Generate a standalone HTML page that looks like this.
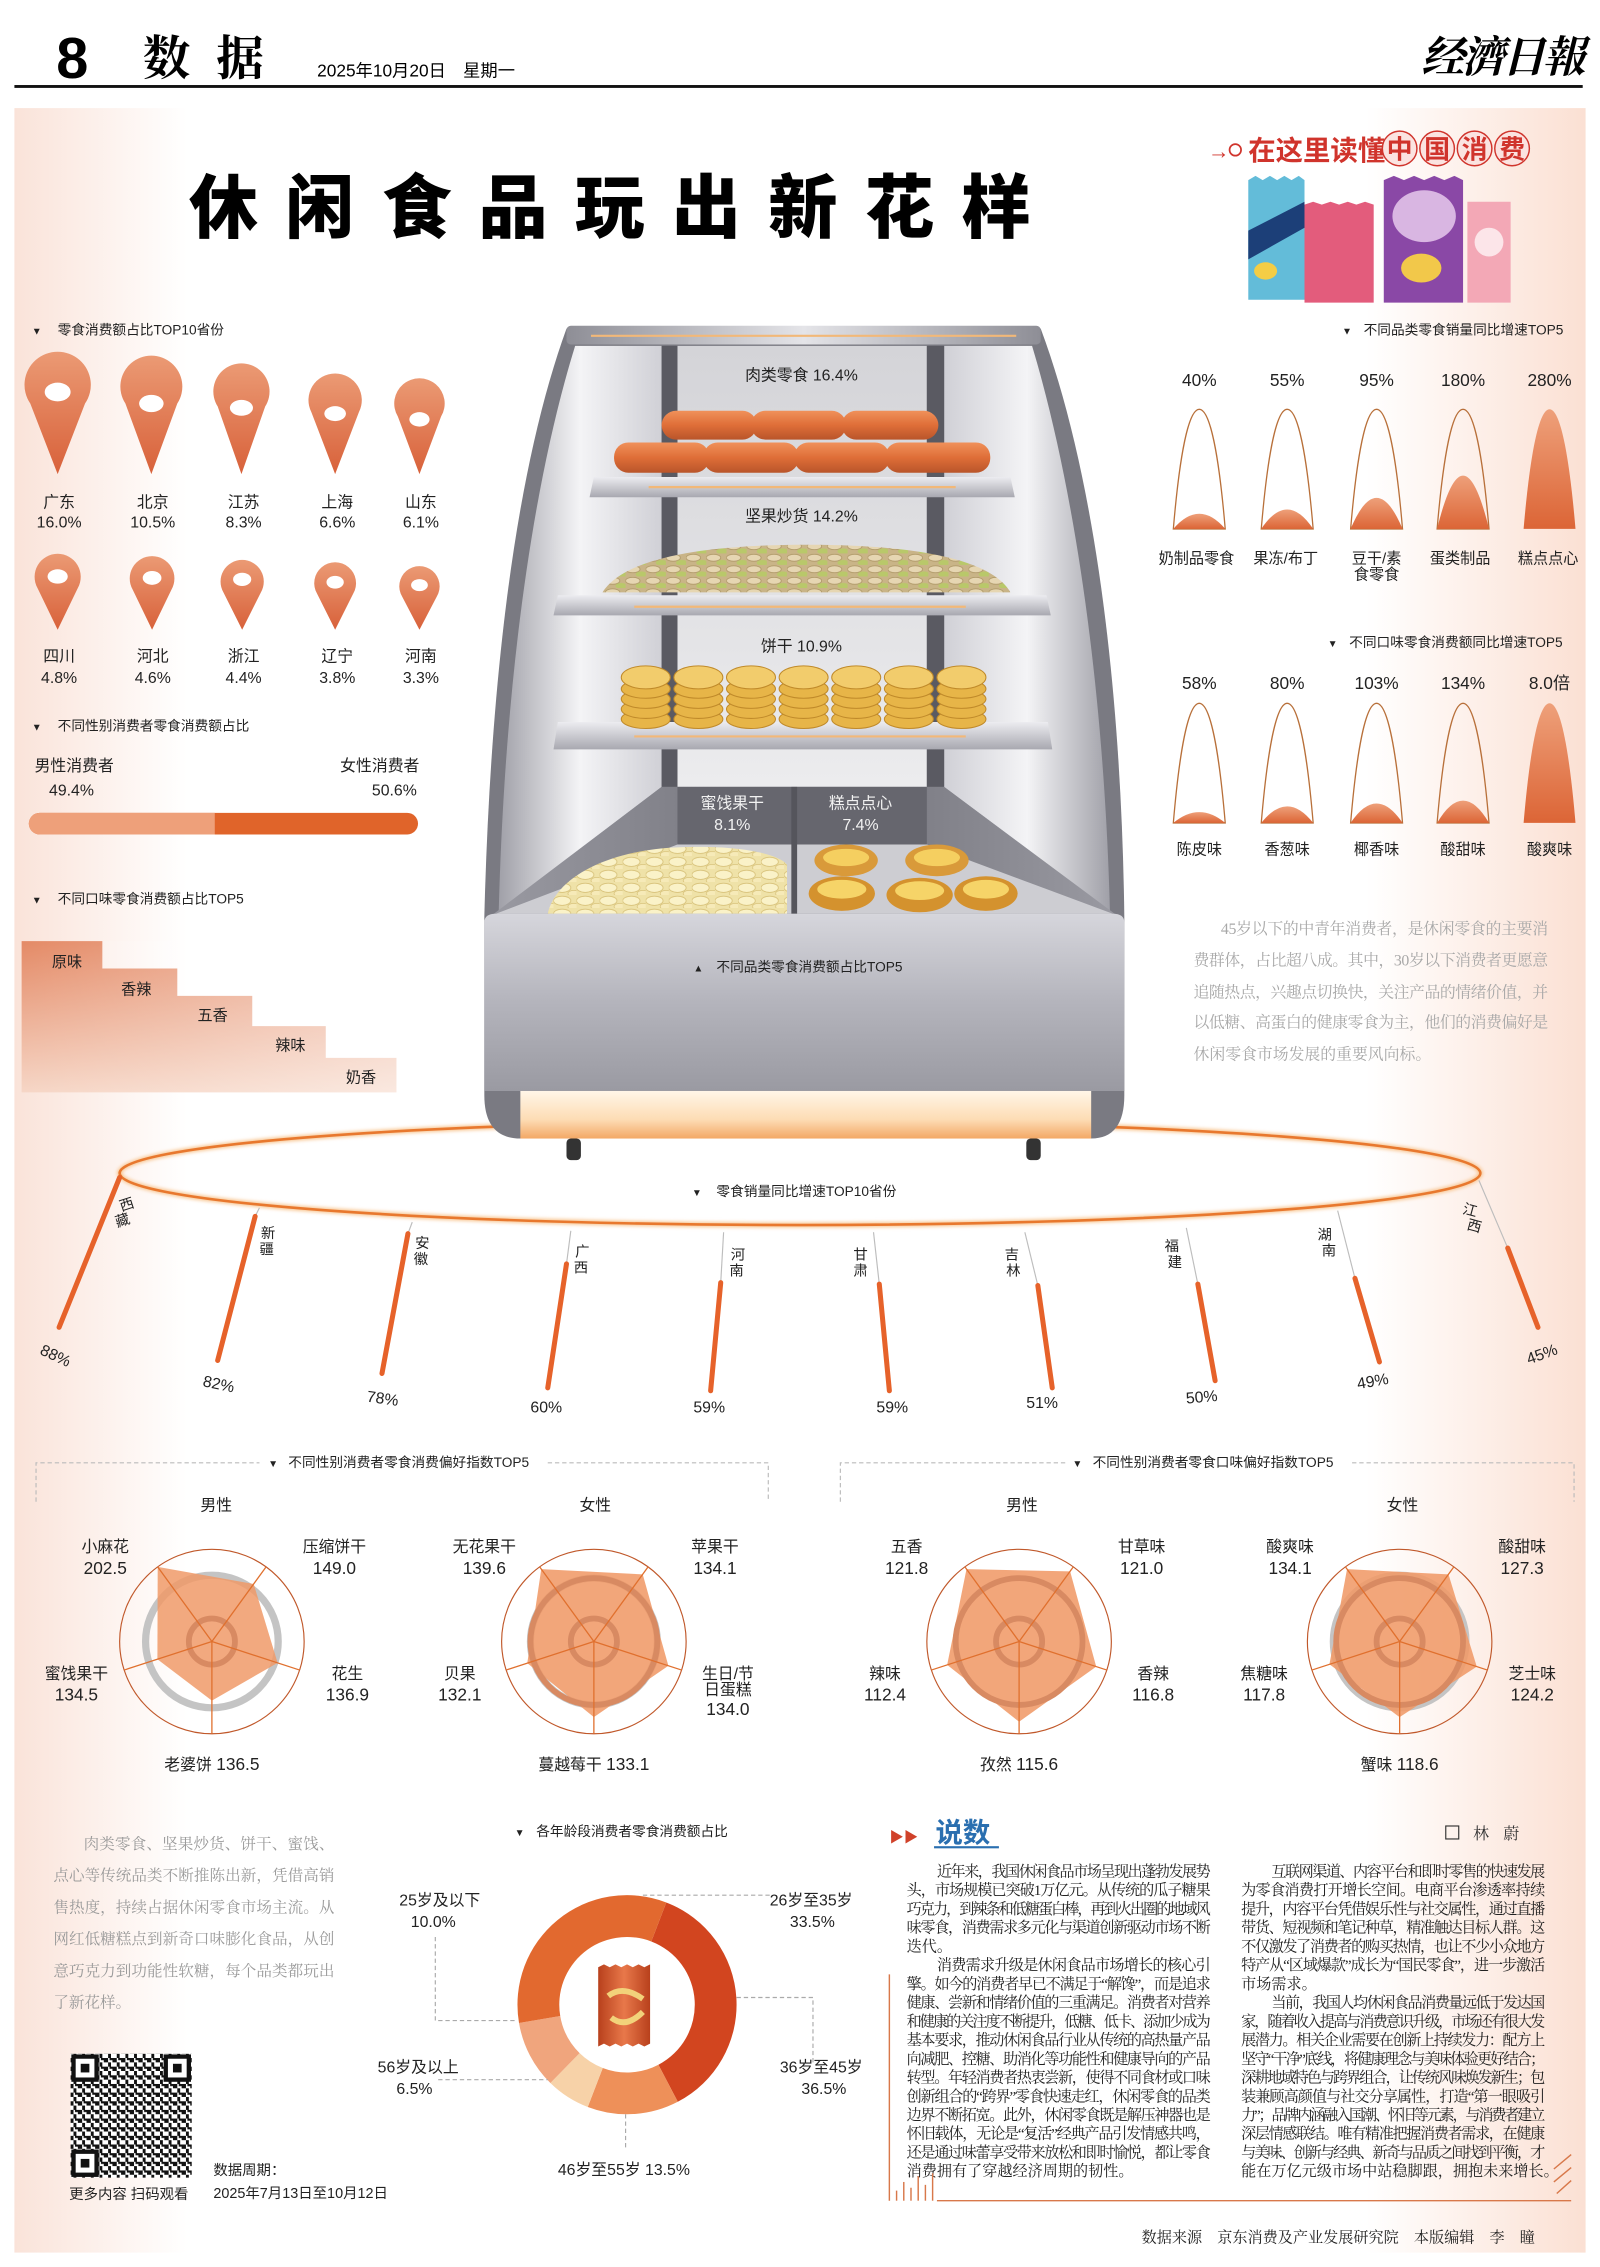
<!DOCTYPE html>
<html><head><meta charset="utf-8">
<style>
html,body{margin:0;padding:0;background:#fff;}
svg{display:block;}
.s{font-family:"Liberation Sans","Noto Sans CJK SC",sans-serif;}
.r{font-family:"Liberation Serif","Noto Serif CJK SC",serif;}
</style></head>
<body>
<svg width="1600" height="2267" viewBox="0 0 1110 1573" preserveAspectRatio="none" xmlns="http://www.w3.org/2000/svg" class="s">
<defs>
<linearGradient id="bg" x1="0" x2="1" y1="0" y2="0">
<stop offset="0" stop-color="#fae3d9"/><stop offset="0.11" stop-color="#fff"/><stop offset="0.86" stop-color="#fff"/><stop offset="1" stop-color="#fbe0d3"/></linearGradient>
<linearGradient id="pin" x1="0" x2="0" y1="0" y2="1"><stop offset="0" stop-color="#eb9a74"/><stop offset="1" stop-color="#d8613a"/></linearGradient>
<linearGradient id="bell" x1="0" x2="0" y1="0" y2="1"><stop offset="0" stop-color="#eea07a"/><stop offset="1" stop-color="#dc6536"/></linearGradient>
<linearGradient id="stair" x1="0" x2="0" y1="0" y2="1"><stop offset="0" stop-color="#e48a66"/><stop offset="1" stop-color="#f6d6c6"/></linearGradient>
<linearGradient id="stairH" x1="0" x2="1" y1="0" y2="0"><stop offset="0" stop-color="#fff" stop-opacity="0"/><stop offset="1" stop-color="#fff" stop-opacity="0.45"/></linearGradient>
<linearGradient id="metal" x1="0" x2="1"><stop offset="0" stop-color="#8e8e96"/><stop offset="0.5" stop-color="#e4e4e8"/><stop offset="1" stop-color="#8e8e96"/></linearGradient>
<linearGradient id="sideL" x1="0" x2="1"><stop offset="0" stop-color="#a0a0a8"/><stop offset="0.5" stop-color="#f4f4f6"/><stop offset="1" stop-color="#d0d0d6"/></linearGradient>
<linearGradient id="sideR" x1="1" x2="0"><stop offset="0" stop-color="#a0a0a8"/><stop offset="0.5" stop-color="#f4f4f6"/><stop offset="1" stop-color="#d0d0d6"/></linearGradient>
<linearGradient id="back" x1="0" x2="0" y1="0" y2="1"><stop offset="0" stop-color="#d4d4d8"/><stop offset="1" stop-color="#ececee"/></linearGradient>
<linearGradient id="base" x1="0" x2="0" y1="0" y2="1"><stop offset="0" stop-color="#d6d6dc"/><stop offset="0.5" stop-color="#b4b4bc"/><stop offset="1" stop-color="#9a9aa2"/></linearGradient>
<linearGradient id="glow" x1="0" x2="0" y1="0" y2="1"><stop offset="0" stop-color="#fff6e8"/><stop offset="0.6" stop-color="#fddcb4"/><stop offset="1" stop-color="#f3a866"/></linearGradient>
<linearGradient id="saus" x1="0" x2="0" y1="0" y2="1"><stop offset="0" stop-color="#f0915a"/><stop offset="0.5" stop-color="#df6e38"/><stop offset="1" stop-color="#b9552a"/></linearGradient>
<linearGradient id="shelf" x1="0" x2="0" y1="0" y2="1"><stop offset="0" stop-color="#ececf0"/><stop offset="1" stop-color="#a8a8b0"/></linearGradient>
<linearGradient id="binw" x1="0" x2="1"><stop offset="0" stop-color="#9a9aa2"/><stop offset="0.5" stop-color="#707078"/><stop offset="1" stop-color="#9a9aa2"/></linearGradient>
<linearGradient id="bag" x1="0" x2="1"><stop offset="0" stop-color="#b8401c"/><stop offset="0.5" stop-color="#e8784a"/><stop offset="1" stop-color="#b8401c"/></linearGradient>
<pattern id="nuts" width="14" height="8" patternUnits="userSpaceOnUse">
<rect width="14" height="8" fill="#c9b487"/>
<ellipse cx="5" cy="3" rx="5" ry="2.4" fill="#e6d6b2" stroke="#a8915e" stroke-width="0.5"/>
<ellipse cx="11" cy="6.5" rx="4" ry="2" fill="#b9c86a"/>
</pattern>
<pattern id="fruit" width="16" height="9" patternUnits="userSpaceOnUse">
<rect width="16" height="9" fill="#efe2a8"/>
<ellipse cx="6" cy="4" rx="6" ry="3.2" fill="#faf2c8" stroke="#d8c27a" stroke-width="0.6"/>
<ellipse cx="14" cy="8" rx="4" ry="2.2" fill="#f6eab8" stroke="#d8c27a" stroke-width="0.5"/>
</pattern>
<pattern id="qr" width="6" height="6" patternUnits="userSpaceOnUse">
<rect width="6" height="6" fill="#fff"/>
<rect x="0" y="0" width="3" height="3" fill="#111"/><rect x="3" y="3" width="2" height="3" fill="#111"/><rect x="4" y="0" width="2" height="1.5" fill="#111"/>
</pattern>
<filter id="blur"><feGaussianBlur stdDeviation="1.2"/></filter>
</defs>

<!-- Header -->
<text x="39" y="54" font-size="40" font-weight="bold">8</text>
<text x="99" y="52" font-size="33" font-weight="bold" class="r" letter-spacing="18">数据</text>
<text x="220" y="53" font-size="12">2025年10月20日　星期一</text>
<text x="986" y="50" font-size="30" font-weight="bold" class="r" font-style="italic" letter-spacing="-2">经濟日報</text>
<rect x="10" y="59" width="1088" height="2" fill="#111"/>

<!-- Panel -->
<rect x="10" y="75" width="1090" height="1488" fill="url(#bg)"/>

<!-- Title -->
<text x="131" y="161" font-size="48" font-weight="900" textLength="584" lengthAdjust="spacing" font-family="'Noto Sans CJK SC',sans-serif">休闲食品玩出新花样</text>

<!-- Top right slogan -->
<text x="838" y="110" font-size="15" fill="#d0342c" font-weight="bold">→</text>
<circle cx="857" cy="104" r="4" fill="none" stroke="#d0342c" stroke-width="1.2"/>
<text x="866" y="111" font-size="19" fill="#d0342c" font-weight="bold">在这里读懂</text>
<g fill="#fbe3e0" stroke="#d0342c" stroke-width="1"><circle cx="971" cy="103" r="12"/><circle cx="997" cy="103" r="12"/><circle cx="1023" cy="103" r="12"/><circle cx="1049" cy="103" r="12"/></g>
<g font-size="18" fill="#d0342c" font-weight="bold" text-anchor="middle"><text x="971" y="110">中</text><text x="997" y="110">国</text><text x="1023" y="110">消</text><text x="1049" y="110">费</text></g>
<path d="M866,125 l5,-3 5,3 5,-3 5,3 5,-3 5,3 5,-3 4,3 V208 H866 Z" fill="#63bcd9"/>
<path d="M866,160 L905,140 L905,158 L866,180 Z" fill="#1c3f78"/>
<ellipse cx="878" cy="188" rx="8" ry="6" fill="#f4cd45"/>
<path d="M905,142 l6,-2 6,2 6,-2 6,2 6,-2 6,2 6,-2 6,2 V210 H905 Z" fill="#e35c7c"/>
<path d="M960,125 l7,-3 7,3 7,-3 7,3 7,-3 7,3 7,-3 6,3 V210 H960 Z" fill="#8a48a6"/>
<ellipse cx="988" cy="150" rx="22" ry="18" fill="#d9b6e2"/>
<ellipse cx="986" cy="186" rx="14" ry="10" fill="#f2c84a"/>
<path d="M1018,140 h30 V210 h-30 Z" fill="#f3a8b6"/>
<circle cx="1033" cy="168" r="10" fill="#fff" opacity="0.7"/>

<!-- Section: top10 provinces -->
<g font-size="9.5" fill="#222"><text x="22" y="232" font-size="7">▼</text><text x="40" y="232">零食消费额占比TOP10省份</text></g>
<g fill="url(#pin)">
<path d="M21,280 A23,23 0 1 1 59,280 L40,329 Z"/><path d="M87,280 A21.5,21.5 0 1 1 123,280 L105,329 Z"/>
<path d="M151,282 A19.5,19.5 0 1 1 184,282 L167.5,329 Z"/><path d="M216,286 A18.5,18.5 0 1 1 249,286 L232.5,329 Z"/>
<path d="M276,289 A17.5,17.5 0 1 1 306,289 L291,329 Z"/>
<path d="M26,408 A16,16 0 1 1 54,408 L40,437 Z"/><path d="M92,409 A15.5,15.5 0 1 1 119,409 L105.5,437 Z"/>
<path d="M155,411 A15,15 0 1 1 181,411 L168,437 Z"/><path d="M220,412 A14.5,14.5 0 1 1 245,412 L232.5,437 Z"/>
<path d="M279,414 A14,14 0 1 1 303,414 L291,437 Z"/>
</g>
<g fill="#fff"><ellipse cx="40" cy="272" rx="9" ry="6.5"/><ellipse cx="105" cy="280" rx="8.5" ry="6"/><ellipse cx="167.5" cy="283" rx="8" ry="5.5"/><ellipse cx="232.5" cy="287" rx="7.5" ry="5.2"/><ellipse cx="291" cy="291" rx="7" ry="5"/>
<ellipse cx="40" cy="400" rx="7" ry="5"/><ellipse cx="105.5" cy="401" rx="6.5" ry="4.8"/><ellipse cx="168" cy="402" rx="6.3" ry="4.6"/><ellipse cx="232.5" cy="404" rx="6" ry="4.4"/><ellipse cx="291" cy="406" rx="5.8" ry="4.2"/></g>
<g font-size="11" fill="#222" text-anchor="middle">
<text x="41" y="352">广东</text><text x="41" y="366">16.0%</text>
<text x="106" y="352">北京</text><text x="106" y="366">10.5%</text>
<text x="169" y="352">江苏</text><text x="169" y="366">8.3%</text>
<text x="234" y="352">上海</text><text x="234" y="366">6.6%</text>
<text x="292" y="352">山东</text><text x="292" y="366">6.1%</text>
<text x="41" y="459">四川</text><text x="41" y="474">4.8%</text>
<text x="106" y="459">河北</text><text x="106" y="474">4.6%</text>
<text x="169" y="459">浙江</text><text x="169" y="474">4.4%</text>
<text x="234" y="459">辽宁</text><text x="234" y="474">3.8%</text>
<text x="292" y="459">河南</text><text x="292" y="474">3.3%</text>
</g>

<!-- Gender share -->
<g font-size="9.5" fill="#222"><text x="22" y="507" font-size="7">▼</text><text x="40" y="507">不同性别消费者零食消费额占比</text></g>
<g font-size="11" fill="#222"><text x="24" y="535">男性消费者</text><text x="34" y="552">49.4%</text><text x="236" y="535">女性消费者</text><text x="258" y="552">50.6%</text></g>
<rect x="20" y="564" width="270" height="15" rx="7.5" fill="#e0642a"/>
<path d="M27.5,564 H149 V579 H27.5 A7.5,7.5 0 0 1 27.5,564 Z" fill="#eea07a"/>

<!-- Taste stairs -->
<g font-size="9.5" fill="#222"><text x="22" y="627" font-size="7">▼</text><text x="40" y="627">不同口味零食消费额占比TOP5</text></g>
<path d="M15,653 H71 V672 H123 V691 H175 V712 H226 V734 H275 V758 H15 Z" fill="url(#stair)"/>
<rect x="15" y="653" width="260" height="105" fill="url(#stairH)"/>
<g font-size="10.5" fill="#222"><text x="36" y="671">原味</text><text x="84" y="690">香辣</text><text x="137" y="708">五香</text><text x="191" y="729">辣味</text><text x="240" y="751">奶香</text></g>

<!-- Bells top right -->
<g font-size="9.5" fill="#222"><text x="931" y="232" font-size="7">▼</text><text x="946" y="232">不同品类零食销量同比增速TOP5</text></g>
<g font-size="12" fill="#222" text-anchor="middle"><text x="832" y="268">40%</text><text x="893" y="268">55%</text><text x="955" y="268">95%</text><text x="1015" y="268">180%</text><text x="1075" y="268">280%</text></g>
<g fill="none" stroke="#b8703a" stroke-width="0.9">
<path d="M814,367 C818,320 824,284 832,284 C840,284 846,320 850,367 Z"/>
<path d="M875,367 C879,320 885,284 893,284 C901,284 907,320 911,367 Z"/>
<path d="M937,367 C941,320 947,284 955,284 C963,284 969,320 973,367 Z"/>
<path d="M997,367 C1001,320 1007,284 1015,284 C1023,284 1029,320 1033,367 Z"/>
</g>
<g fill="url(#bell)">
<path d="M814,367 Q832,346 850,367 Z"/><path d="M875,367 Q893,340 911,367 Z"/><path d="M937,367 Q955,324 973,367 Z"/><path d="M997,367 Q1015,293 1033,367 Z"/>
<path d="M1057,367 C1061,320 1067,284 1075,284 C1083,284 1089,320 1093,367 Z"/>
</g>
<g font-size="10.5" fill="#222" text-anchor="middle"><text x="830" y="391">奶制品零食</text><text x="892" y="391">果冻/布丁</text><text x="955" y="391">豆干/素</text><text x="955" y="402">食零食</text><text x="1013" y="391">蛋类制品</text><text x="1074" y="391">糕点点心</text></g>

<g font-size="9.5" fill="#222"><text x="921" y="449" font-size="7">▼</text><text x="936" y="449">不同口味零食消费额同比增速TOP5</text></g>
<g font-size="12" fill="#222" text-anchor="middle"><text x="832" y="478">58%</text><text x="893" y="478">80%</text><text x="955" y="478">103%</text><text x="1015" y="478">134%</text><text x="1075" y="478">8.0倍</text></g>
<g fill="none" stroke="#b8703a" stroke-width="0.9">
<path d="M814,571 C818,524 824,488 832,488 C840,488 846,524 850,571 Z"/>
<path d="M875,571 C879,524 885,488 893,488 C901,488 907,524 911,571 Z"/>
<path d="M937,571 C941,524 947,488 955,488 C963,488 969,524 973,571 Z"/>
<path d="M997,571 C1001,524 1007,488 1015,488 C1023,488 1029,524 1033,571 Z"/>
</g>
<g fill="url(#bell)">
<path d="M814,571 Q832,556 850,571 Z"/><path d="M875,571 Q893,548 911,571 Z"/><path d="M937,571 Q955,544 973,571 Z"/><path d="M997,571 Q1015,540 1033,571 Z"/>
<path d="M1057,571 C1061,524 1067,488 1075,488 C1083,488 1089,524 1093,571 Z"/>
</g>
<g font-size="10.5" fill="#222" text-anchor="middle"><text x="832" y="593">陈皮味</text><text x="893" y="593">香葱味</text><text x="955" y="593">椰香味</text><text x="1015" y="593">酸甜味</text><text x="1075" y="593">酸爽味</text></g>

<g font-size="11" fill="#a8a8a8" class="r">
<text x="847" y="648" textLength="227" lengthAdjust="spacing">45岁以下的中青年消费者，是休闲零食的主要消</text>
<text x="828" y="670" textLength="246" lengthAdjust="spacing">费群体，占比超八成。其中，30岁以下消费者更愿意</text>
<text x="828" y="692" textLength="246" lengthAdjust="spacing">追随热点，兴趣点切换快，关注产品的情绪价值，并</text>
<text x="828" y="713" textLength="246" lengthAdjust="spacing">以低糖、高蛋白的健康零食为主，他们的消费偏好是</text>
<text x="828" y="735">休闲零食市场发展的重要风向标。</text>
</g>

<!-- Ellipse -->
<ellipse cx="555" cy="814" rx="472" ry="36" fill="none" stroke="#f8c48e" stroke-width="3.5" filter="url(#blur)"/>
<ellipse cx="555" cy="814" rx="472" ry="36" fill="none" stroke="#e8782e" stroke-width="1.8"/>

<!-- Cabinet -->
<path d="M393,228 L722,228 C760,330 778,480 780,636 L780,760 Q780,790 757,790 L361,790 Q336,790 336,760 L336,636 C340,480 356,330 393,228 Z" fill="#7a7a82"/>
<path d="M399,240 L459,240 L459,546 L346,632 C350,480 368,340 399,240 Z" fill="url(#sideL)"/>
<path d="M655,240 L716,240 C746,340 766,480 770,632 L655,546 Z" fill="url(#sideR)"/>
<rect x="470" y="240" width="173" height="306" fill="url(#back)"/>
<rect x="459" y="240" width="11" height="306" fill="#5a5a62"/>
<rect x="643" y="240" width="12" height="306" fill="#5a5a62"/>
<rect x="393" y="226" width="329" height="13" rx="3" fill="url(#metal)"/>
<line x1="410" y1="233" x2="705" y2="233" stroke="#f2b878" stroke-width="1.5"/>
<g fill="url(#saus)">
<rect x="459" y="285" width="66" height="20" rx="10"/><rect x="521" y="285" width="66" height="20" rx="10"/><rect x="584" y="285" width="67" height="20" rx="10"/>
<rect x="426" y="307" width="66" height="21" rx="10"/><rect x="488" y="307" width="66" height="21" rx="10"/><rect x="551" y="307" width="66" height="21" rx="10"/><rect x="614" y="307" width="73" height="21" rx="10"/>
</g>
<path d="M412,331 H701 L704,345 H409 Z" fill="url(#shelf)"/>
<line x1="450" y1="338" x2="663" y2="338" stroke="#f2b878" stroke-width="1.5"/>
<path d="M387,413 H726 L729,427 H384 Z" fill="url(#shelf)"/>
<line x1="440" y1="421" x2="670" y2="421" stroke="#f2b878" stroke-width="1.5"/>
<path d="M387,501 H727 L730,520 H384 Z" fill="url(#shelf)"/>
<line x1="440" y1="511" x2="670" y2="511" stroke="#f2b878" stroke-width="1.5"/>
<path d="M418,411 C430,392 470,378 560,378 C650,378 690,392 701,411 Z" fill="url(#nuts)"/>
<g stroke="#c08a2a" stroke-width="0.7" fill="#e7b548">
<g id="stk"><ellipse cx="448" cy="499" rx="17" ry="6.5"/><ellipse cx="448" cy="492" rx="17" ry="6.5"/><ellipse cx="448" cy="485" rx="17" ry="6.5"/><ellipse cx="448" cy="478" rx="17" ry="6.5"/><ellipse cx="448" cy="470" rx="17" ry="8" fill="#f2cc6c"/></g>
<use href="#stk" x="36.5"/><use href="#stk" x="73"/><use href="#stk" x="109.5"/><use href="#stk" x="146"/><use href="#stk" x="182.5"/><use href="#stk" x="219"/>
</g>
<!-- bins -->
<path d="M459,546 L655,546 L776,636 L340,636 Z" fill="url(#binw)"/>
<rect x="470" y="546" width="173" height="41" fill="#66666e"/>
<path d="M470,586 L643,586 L772,634 L344,634 Z" fill="#cdcdd2"/>
<rect x="549" y="546" width="4" height="88" fill="#55555c"/>
<path d="M380,634 C385,610 420,590 470,588 C510,586 540,592 546,600 L546,634 Z" fill="url(#fruit)"/>
<g>
<ellipse cx="587" cy="597" rx="22" ry="11" fill="#d99a3a"/><ellipse cx="587" cy="595" rx="16" ry="6" fill="#f5cf60"/>
<ellipse cx="650" cy="597" rx="22" ry="11" fill="#d99a3a"/><ellipse cx="650" cy="595" rx="16" ry="6" fill="#f5cf60"/>
<ellipse cx="584" cy="620" rx="23" ry="12" fill="#d4922e"/><ellipse cx="584" cy="617" rx="17" ry="6.5" fill="#f6d468"/>
<ellipse cx="638" cy="621" rx="23" ry="12" fill="#d4922e"/><ellipse cx="638" cy="618" rx="17" ry="6.5" fill="#f6d468"/>
<ellipse cx="684" cy="620" rx="22" ry="12" fill="#d4922e"/><ellipse cx="684" cy="617" rx="16" ry="6.5" fill="#f6d468"/>
</g>
<path d="M336,640 Q336,634 344,634 L772,634 Q780,634 780,640 L780,757 L336,757 Z" fill="url(#base)"/>
<rect x="361" y="757" width="396" height="33" fill="url(#glow)"/>
<rect x="393" y="790" width="10" height="15" rx="3" fill="#333"/>
<rect x="712" y="790" width="10" height="15" rx="3" fill="#333"/>
<g font-size="11" fill="#222" text-anchor="middle"><text x="556" y="264">肉类零食  16.4%</text><text x="556" y="362">坚果炒货  14.2%</text><text x="556" y="452">饼干  10.9%</text></g>
<g font-size="11" fill="#f2f2f2" text-anchor="middle"><text x="508" y="561">蜜饯果干</text><text x="508" y="576">8.1%</text><text x="597" y="561">糕点点心</text><text x="597" y="576">7.4%</text></g>
<g font-size="9.5" fill="#222"><text x="481" y="674" font-size="7">▲</text><text x="497" y="674">不同品类零食消费额占比TOP5</text></g>

<!-- sticks -->
<g stroke="#bdbdbd" stroke-width="0.8">
<line x1="180" y1="838" x2="177" y2="844"/><line x1="286" y1="848" x2="283" y2="856"/><line x1="396" y1="854" x2="393" y2="877"/>
<line x1="502" y1="855" x2="500" y2="890"/><line x1="606" y1="855" x2="610" y2="891"/><line x1="711" y1="855" x2="720" y2="892"/>
<line x1="823" y1="852" x2="831" y2="891"/><line x1="928" y1="840" x2="940" y2="887"/><line x1="1026" y1="819" x2="1046" y2="866"/>
</g>
<g stroke="#e6622a" stroke-width="3.5" stroke-linecap="round">
<line x1="83" y1="817" x2="41" y2="921"/><line x1="177" y1="844" x2="151" y2="944"/><line x1="283" y1="856" x2="265" y2="953"/>
<line x1="393" y1="877" x2="380" y2="963"/><line x1="500" y1="890" x2="493" y2="965"/><line x1="610" y1="891" x2="617" y2="965"/>
<line x1="720" y1="892" x2="730" y2="963"/><line x1="831" y1="891" x2="843" y2="958"/><line x1="940" y1="887" x2="957" y2="945"/>
<line x1="1046" y1="866" x2="1067" y2="921"/>
</g>
<g font-size="10" fill="#222" text-anchor="middle">
<text x="89" y="839" transform="rotate(-18 89 839)">西</text><text x="86" y="850" transform="rotate(-18 86 850)">藏</text>
<text x="186" y="859">新</text><text x="185" y="870">疆</text>
<text x="293" y="866">安</text><text x="292" y="877">徽</text>
<text x="404" y="872">广</text><text x="403" y="883">西</text>
<text x="512" y="874">河</text><text x="511" y="885">南</text>
<text x="597" y="874">甘</text><text x="597" y="885">肃</text>
<text x="702" y="874">吉</text><text x="703" y="885">林</text>
<text x="813" y="868">福</text><text x="815" y="879">建</text>
<text x="919" y="860">湖</text><text x="922" y="871">南</text>
<text x="1019" y="843" transform="rotate(15 1019 843)">江</text><text x="1022" y="854" transform="rotate(15 1022 854)">西</text>
</g>
<g font-size="11" fill="#222" text-anchor="middle">
<text x="37" y="944" transform="rotate(25 37 944)">88%</text><text x="151" y="964" transform="rotate(12 151 964)">82%</text>
<text x="265" y="974" transform="rotate(8 265 974)">78%</text><text x="379" y="980">60%</text><text x="492" y="980">59%</text>
<text x="619" y="980">59%</text><text x="723" y="977">51%</text><text x="834" y="973" transform="rotate(-5 834 973)">50%</text>
<text x="953" y="962" transform="rotate(-10 953 962)">49%</text><text x="1071" y="943" transform="rotate(-20 1071 943)">45%</text>
</g>
<g font-size="9.5" fill="#222"><text x="480" y="830" font-size="7">▼</text><text x="497" y="830">零食销量同比增速TOP10省份</text></g>

<!-- Radar boxes -->
<g fill="none" stroke="#bbb" stroke-width="0.8" stroke-dasharray="3,2">
<path d="M25,1042 V1015 H180 M380,1015 H533 V1042"/>
<path d="M583,1042 V1015 H740 M938,1015 H1092 V1042"/>
</g>
<g font-size="9.5" fill="#222"><text x="186" y="1018" font-size="7">▼</text><text x="200" y="1018">不同性别消费者零食消费偏好指数TOP5</text>
<text x="744" y="1018" font-size="7">▼</text><text x="758" y="1018">不同性别消费者零食口味偏好指数TOP5</text></g>
<g font-size="11" fill="#222" text-anchor="middle"><text x="150" y="1048">男性</text><text x="413" y="1048">女性</text><text x="709" y="1048">男性</text><text x="973" y="1048">女性</text></g>

<g>
<circle cx="147" cy="1139" r="64" fill="none" stroke="#c0582a" stroke-width="0.8"/>
<circle cx="147" cy="1139" r="46" fill="none" stroke="#c4c4c4" stroke-width="5"/>
<polygon points="109.4,1087.2 176,1099.1 192.6,1153.8 147,1180 109.2,1151.3" fill="#f09a68" opacity="0.85"/>
<circle cx="147" cy="1139" r="16" fill="none" stroke="#d88a62" stroke-width="4"/>
<g stroke="#e0702e" stroke-width="0.9"><line x1="147" y1="1139" x2="109.4" y2="1087.2"/><line x1="147" y1="1139" x2="184.6" y2="1087.2"/><line x1="147" y1="1139" x2="207.9" y2="1158.8"/><line x1="147" y1="1139" x2="147" y2="1203"/><line x1="147" y1="1139" x2="86.1" y2="1158.8"/></g>
</g>
<g>
<circle cx="412" cy="1139" r="64" fill="none" stroke="#c0582a" stroke-width="0.8"/>
<circle cx="412" cy="1139" r="44" fill="none" stroke="#c4c4c4" stroke-width="5"/>
<polygon points="375.5,1088.8 445.9,1092.4 463.7,1155.8 412,1191.5 365.8,1154" fill="#f09a68" opacity="0.88"/>
<circle cx="412" cy="1139" r="44" fill="none" stroke="#d88a62" stroke-width="4"/>
<circle cx="412" cy="1139" r="16" fill="none" stroke="#d88a62" stroke-width="4"/>
<g stroke="#e0702e" stroke-width="0.9"><line x1="412" y1="1139" x2="374.4" y2="1087.2"/><line x1="412" y1="1139" x2="449.6" y2="1087.2"/><line x1="412" y1="1139" x2="472.9" y2="1158.8"/><line x1="412" y1="1139" x2="412" y2="1203"/><line x1="412" y1="1139" x2="351.1" y2="1158.8"/></g>
</g>
<g>
<circle cx="707" cy="1139" r="64" fill="none" stroke="#c0582a" stroke-width="0.8"/>
<polygon points="670.5,1088.8 742.4,1090.3 760.5,1156.4 707,1194.7 657.1,1155.2" fill="#f09a68" opacity="0.88"/>
<circle cx="707" cy="1139" r="44" fill="none" stroke="#d88a62" stroke-width="4"/>
<circle cx="707" cy="1139" r="16" fill="none" stroke="#d88a62" stroke-width="4"/>
<g stroke="#e0702e" stroke-width="0.9"><line x1="707" y1="1139" x2="669.4" y2="1087.2"/><line x1="707" y1="1139" x2="744.6" y2="1087.2"/><line x1="707" y1="1139" x2="767.9" y2="1158.8"/><line x1="707" y1="1139" x2="707" y2="1203"/><line x1="707" y1="1139" x2="646.1" y2="1158.8"/></g>
</g>
<g>
<circle cx="971" cy="1139" r="64" fill="none" stroke="#c0582a" stroke-width="0.8"/>
<circle cx="971" cy="1139" r="46" fill="none" stroke="#c4c4c4" stroke-width="5"/>
<polygon points="934.5,1088.8 1004.9,1092.4 1024.5,1156.4 971,1191.5 922.3,1154.8" fill="#f09a68" opacity="0.88"/>
<circle cx="971" cy="1139" r="44" fill="none" stroke="#d88a62" stroke-width="4"/>
<circle cx="971" cy="1139" r="16" fill="none" stroke="#d88a62" stroke-width="4"/>
<g stroke="#e0702e" stroke-width="0.9"><line x1="971" y1="1139" x2="933.4" y2="1087.2"/><line x1="971" y1="1139" x2="1008.6" y2="1087.2"/><line x1="971" y1="1139" x2="1031.9" y2="1158.8"/><line x1="971" y1="1139" x2="971" y2="1203"/><line x1="971" y1="1139" x2="910.1" y2="1158.8"/></g>
</g>
<g font-size="11" fill="#222" text-anchor="middle">
<text x="73" y="1077">小麻花</text><text x="73" y="1092" font-size="12">202.5</text>
<text x="232" y="1077">压缩饼干</text><text x="232" y="1092" font-size="12">149.0</text>
<text x="241" y="1165">花生</text><text x="241" y="1180" font-size="12">136.9</text>
<text x="53" y="1165">蜜饯果干</text><text x="53" y="1180" font-size="12">134.5</text>
<text x="147" y="1228">老婆饼  <tspan font-size="12">136.5</tspan></text>
<text x="336" y="1077">无花果干</text><text x="336" y="1092" font-size="12">139.6</text>
<text x="496" y="1077">苹果干</text><text x="496" y="1092" font-size="12">134.1</text>
<text x="319" y="1165">贝果</text><text x="319" y="1180" font-size="12">132.1</text>
<text x="505" y="1165">生日/节</text><text x="505" y="1176">日蛋糕</text><text x="505" y="1190" font-size="12">134.0</text>
<text x="412" y="1228">蔓越莓干  <tspan font-size="12">133.1</tspan></text>
<text x="629" y="1077">五香</text><text x="629" y="1092" font-size="12">121.8</text>
<text x="792" y="1077">甘草味</text><text x="792" y="1092" font-size="12">121.0</text>
<text x="614" y="1165">辣味</text><text x="614" y="1180" font-size="12">112.4</text>
<text x="800" y="1165">香辣</text><text x="800" y="1180" font-size="12">116.8</text>
<text x="707" y="1228">孜然  <tspan font-size="12">115.6</tspan></text>
<text x="895" y="1077">酸爽味</text><text x="895" y="1092" font-size="12">134.1</text>
<text x="1056" y="1077">酸甜味</text><text x="1056" y="1092" font-size="12">127.3</text>
<text x="877" y="1165">焦糖味</text><text x="877" y="1180" font-size="12">117.8</text>
<text x="1063" y="1165">芝士味</text><text x="1063" y="1180" font-size="12">124.2</text>
<text x="971" y="1228">蟹味  <tspan font-size="12">118.6</tspan></text>
</g>

<g font-size="10.8" fill="#9a9a9a" class="r">
<text x="58" y="1283" textLength="174" lengthAdjust="spacing">肉类零食、坚果炒货、饼干、蜜饯、</text>
<text x="37" y="1305" textLength="195" lengthAdjust="spacing">点心等传统品类不断推陈出新，凭借高销</text>
<text x="37" y="1327" textLength="195" lengthAdjust="spacing">售热度，持续占据休闲零食市场主流。从</text>
<text x="37" y="1349" textLength="195" lengthAdjust="spacing">网红低糖糕点到新奇口味膨化食品，从创</text>
<text x="37" y="1371" textLength="195" lengthAdjust="spacing">意巧克力到功能性软糖，每个品类都玩出</text>
<text x="37" y="1393">了新花样。</text>
</g>
<rect x="49" y="1425" width="84" height="86" fill="url(#qr)"/>
<g fill="#fff" stroke="#111" stroke-width="3"><rect x="51" y="1427" width="16" height="16"/><rect x="115" y="1427" width="16" height="16"/><rect x="51" y="1493" width="16" height="16"/></g>
<g fill="#111"><rect x="56" y="1432" width="6" height="6"/><rect x="120" y="1432" width="6" height="6"/><rect x="56" y="1498" width="6" height="6"/></g>
<g font-size="10" fill="#222"><text x="48" y="1526">更多内容 扫码观看</text><text x="148" y="1509">数据周期：</text><text x="148" y="1525">2025年7月13日至10月12日</text></g>

<g font-size="9.5" fill="#222"><text x="357" y="1274" font-size="7">▼</text><text x="372" y="1274">各年龄段消费者零食消费额占比</text></g>
<path d="M462.24,1320.05 A76,76 0 0 1 470.21,1458.35 L456.78,1432.65 A47,47 0 0 0 451.84,1347.12 Z" fill="#d2451f"/>
<path d="M470.21,1458.35 A76,76 0 0 1 407.76,1461.95 L418.16,1434.88 A47,47 0 0 0 456.78,1432.65 Z" fill="#ee9059"/>
<path d="M407.76,1461.95 A76,76 0 0 1 381.82,1445.30 L402.11,1424.58 A47,47 0 0 0 418.16,1434.88 Z" fill="#f7d2a8"/>
<path d="M381.82,1445.30 A76,76 0 0 1 360.06,1403.68 L388.66,1398.84 A47,47 0 0 0 402.11,1424.58 Z" fill="#f0a57d"/>
<path d="M360.06,1403.68 A76,76 0 0 1 462.24,1320.05 L451.84,1347.12 A47,47 0 0 0 388.66,1398.84 Z" fill="#e2692f"/>
<path d="M415,1365 l4,-2 4,2 4,-2 4,2 4,-2 4,2 4,-2 4,2 4,-2 V1418 l-4,2 -4,-2 -4,2 -4,-2 -4,2 -4,-2 -4,2 -4,-2 -4,2 Z" fill="url(#bag)"/>
<path d="M422,1385 q10,-8 24,2 M424,1400 q10,8 22,-4" stroke="#f2d27a" stroke-width="4" fill="none"/>
<g fill="none" stroke="#aaa" stroke-width="0.8" stroke-dasharray="3,2">
<path d="M446,1315 H534"/><path d="M511,1386 H564 V1431"/><path d="M302,1344 V1402 H359"/><path d="M304,1443 H380"/><path d="M434,1467 V1490"/>
</g>
<g font-size="11" fill="#222">
<text x="277" y="1322">25岁及以下</text><text x="285" y="1337">10.0%</text>
<text x="534" y="1322">26岁至35岁</text><text x="548" y="1337">33.5%</text>
<text x="541" y="1438">36岁至45岁</text><text x="556" y="1453">36.5%</text>
<text x="262" y="1438">56岁及以上</text><text x="275" y="1453">6.5%</text>
<text x="387" y="1509">46岁至55岁  13.5%</text>
</g>

<text x="617" y="1278" font-size="10" fill="#d0422a">▶▶</text>
<text x="649" y="1278" font-size="19" fill="#2a6fb0" font-weight="bold">说数</text>
<rect x="648" y="1281" width="45" height="1.5" fill="#2a6fb0"/>
<rect x="1003" y="1267" width="9" height="9" fill="none" stroke="#333" stroke-width="0.8"/>
<text x="1022" y="1276" font-size="11" fill="#333" class="r" letter-spacing="10">林蔚</text>
<g font-size="10.5" fill="#222" class="r">
<text x="650" y="1302" textLength="190" lengthAdjust="spacing">近年来，我国休闲食品市场呈现出蓬勃发展势</text>
<text x="629" y="1315" textLength="211" lengthAdjust="spacing">头，市场规模已突破1万亿元。从传统的瓜子糖果</text>
<text x="629" y="1328" textLength="211" lengthAdjust="spacing">巧克力，到辣条和低糖蛋白棒，再到火出圈的地域风</text>
<text x="629" y="1341" textLength="211" lengthAdjust="spacing">味零食，消费需求多元化与渠道创新驱动市场不断</text>
<text x="629" y="1354">迭代。</text>
<text x="650" y="1367" textLength="190" lengthAdjust="spacing">消费需求升级是休闲食品市场增长的核心引</text>
<text x="629" y="1380" textLength="211" lengthAdjust="spacing">擎。如今的消费者早已不满足于“解馋”，而是追求</text>
<text x="629" y="1393" textLength="211" lengthAdjust="spacing">健康、尝新和情绪价值的三重满足。消费者对营养</text>
<text x="629" y="1406" textLength="211" lengthAdjust="spacing">和健康的关注度不断提升，低糖、低卡、添加少成为</text>
<text x="629" y="1419" textLength="211" lengthAdjust="spacing">基本要求，推动休闲食品行业从传统的高热量产品</text>
<text x="629" y="1432" textLength="211" lengthAdjust="spacing">向减肥、控糖、助消化等功能性和健康导向的产品</text>
<text x="629" y="1445" textLength="211" lengthAdjust="spacing">转型。年轻消费者热衷尝新，使得不同食材或口味</text>
<text x="629" y="1458" textLength="211" lengthAdjust="spacing">创新组合的“跨界”零食快速走红，休闲零食的品类</text>
<text x="629" y="1471" textLength="211" lengthAdjust="spacing">边界不断拓宽。此外，休闲零食既是解压神器也是</text>
<text x="629" y="1484" textLength="211" lengthAdjust="spacing">怀旧载体，无论是“复活”经典产品引发情感共鸣，</text>
<text x="629" y="1497" textLength="211" lengthAdjust="spacing">还是通过味蕾享受带来放松和即时愉悦，都让零食</text>
<text x="629" y="1510">消费拥有了穿越经济周期的韧性。</text>
<text x="882" y="1302" textLength="190" lengthAdjust="spacing">互联网渠道、内容平台和即时零售的快速发展</text>
<text x="861" y="1315" textLength="211" lengthAdjust="spacing">为零食消费打开增长空间。电商平台渗透率持续</text>
<text x="861" y="1328" textLength="211" lengthAdjust="spacing">提升，内容平台凭借娱乐性与社交属性，通过直播</text>
<text x="861" y="1341" textLength="211" lengthAdjust="spacing">带货、短视频和笔记种草，精准触达目标人群。这</text>
<text x="861" y="1354" textLength="211" lengthAdjust="spacing">不仅激发了消费者的购买热情，也让不少小众地方</text>
<text x="861" y="1367" textLength="211" lengthAdjust="spacing">特产从“区域爆款”成长为“国民零食”，进一步激活</text>
<text x="861" y="1380">市场需求。</text>
<text x="882" y="1393" textLength="190" lengthAdjust="spacing">当前，我国人均休闲食品消费量远低于发达国</text>
<text x="861" y="1406" textLength="211" lengthAdjust="spacing">家，随着收入提高与消费意识升级，市场还有很大发</text>
<text x="861" y="1419" textLength="211" lengthAdjust="spacing">展潜力。相关企业需要在创新上持续发力：配方上</text>
<text x="861" y="1432" textLength="211" lengthAdjust="spacing">坚守“干净”底线，将健康理念与美味体验更好结合；</text>
<text x="861" y="1445" textLength="211" lengthAdjust="spacing">深耕地域特色与跨界组合，让传统风味焕发新生；包</text>
<text x="861" y="1458" textLength="211" lengthAdjust="spacing">装兼顾高颜值与社交分享属性，打造“第一眼吸引</text>
<text x="861" y="1471" textLength="211" lengthAdjust="spacing">力”；品牌内涵融入国潮、怀旧等元素，与消费者建立</text>
<text x="861" y="1484" textLength="211" lengthAdjust="spacing">深层情感联结。唯有精准把握消费者需求，在健康</text>
<text x="861" y="1497" textLength="211" lengthAdjust="spacing">与美味、创新与经典、新奇与品质之间找到平衡，才</text>
<text x="861" y="1510">能在万亿元级市场中站稳脚跟，拥抱未来增长。</text>
</g>
<g stroke="#d8784a" stroke-width="1">
<line x1="617" y1="1370" x2="617" y2="1527"/><line x1="622" y1="1520" x2="622" y2="1527"/><line x1="627" y1="1514" x2="627" y2="1527"/><line x1="632" y1="1518" x2="632" y2="1527"/><line x1="637" y1="1510" x2="637" y2="1527"/><line x1="642" y1="1516" x2="642" y2="1527"/><line x1="647" y1="1508" x2="647" y2="1527"/>
<line x1="650" y1="1527" x2="1090" y2="1527"/>
<line x1="1078" y1="1505" x2="1090" y2="1495"/><line x1="1078" y1="1514" x2="1090" y2="1504"/><line x1="1080" y1="1522" x2="1090" y2="1513"/>
</g>
<text x="792" y="1556" font-size="10.5" fill="#222" class="r" xml:space="preserve">数据来源　京东消费及产业发展研究院　本版编辑　李　瞳</text>
</svg>
</body></html>
